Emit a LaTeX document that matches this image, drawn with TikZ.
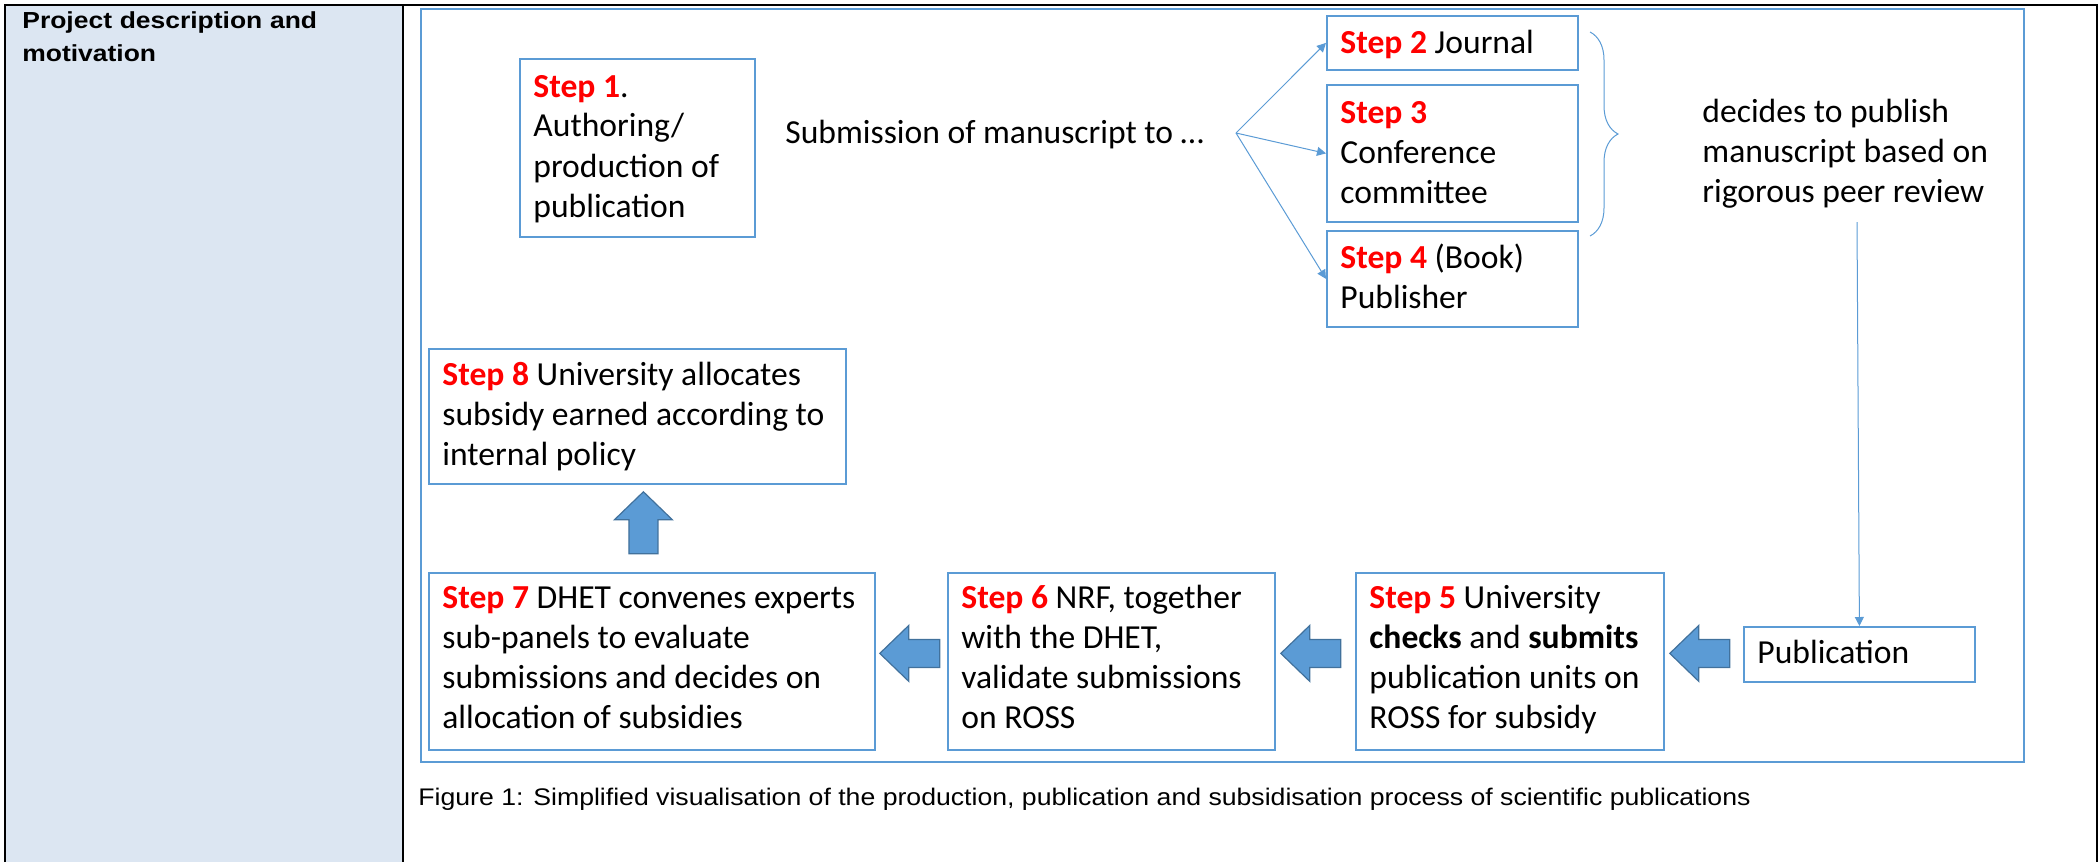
\documentclass[tikz,border=0pt]{standalone}
\usepackage{fontspec}
\setmainfont{Carlito}
\newfontfamily\arialw[FakeStretch=1.14]{Liberation Sans}
\newfontfamily\arialc[FakeStretch=1.11]{Liberation Sans}
\usetikzlibrary{arrows.meta,decorations.pathreplacing}

\definecolor{boxblue}{RGB}{91,155,213}
\definecolor{arrowedge}{RGB}{65,113,156}
\definecolor{cellblue}{RGB}{220,230,242}
\newcommand{\stp}[1]{\textcolor{red}{\bfseries Step #1}}

\tikzset{
  stepbox/.style={draw=boxblue, line width=0.9pt, anchor=north west, inner sep=0pt},
  steptext/.style={anchor=base west, align=flush left, text width=260pt, inner sep=0pt,
    font=\fontsize{16.8pt}{20pt}\selectfont},
  thinarrow/.style={draw=boxblue, line width=0.5pt, -{Triangle[length=4.5pt,width=4.5pt]}},
  blockarrow/.style={fill=boxblue, draw=arrowedge, line width=0.6pt},
  leftarrow/.pic={\draw[blockarrow] (0,0) -- (29,-28) -- (29,-14) -- (60,-14) -- (60,14) -- (29,14) -- (29,28) -- cycle;},
  uparrow/.pic={\draw[blockarrow] (0,0) -- (29,28) -- (14.5,28) -- (14.5,62) -- (-14.5,62) -- (-14.5,28) -- (-29,28) -- cycle;}
}

\begin{document}
\begin{tikzpicture}[x=0.5pt,y=-0.5pt]
\useasboundingbox (0,0) rectangle (2098,862);
% table
\fill[cellblue] (5,5) rectangle (403,862);
\draw[line width=1.2pt] (5,862) -- (5,5) -- (2097,5) -- (2097,862);
\draw[line width=1.2pt] (403,5) -- (403,862);
\node[anchor=base west, align=left, text width=180pt, inner sep=0pt,
  font=\arialw\bfseries\fontsize{11.6pt}{17pt}\selectfont] (head) at (22,28) {Project description and\\motivation};
\draw[boxblue, line width=1pt] (421,9) rectangle (2024,762);

% boxes
\node[stepbox, minimum width=117.5pt, minimum height=89pt] (s1) at (519,58) {};
\node[stepbox, minimum width=125.5pt, minimum height=27pt] (s2) at (1326,15) {};
\node[stepbox, minimum width=125.5pt, minimum height=68.5pt] (s3) at (1326,84) {};
\node[stepbox, minimum width=125.5pt, minimum height=48pt] (s4) at (1326,230) {};
\node[stepbox, minimum width=154pt, minimum height=88.5pt] (s5) at (1355,572) {};
\node[stepbox, minimum width=163.5pt, minimum height=88.5pt] (s6) at (947,572) {};
\node[stepbox, minimum width=223pt, minimum height=88.5pt] (s7) at (428,572) {};
\node[stepbox, minimum width=208.5pt, minimum height=67.5pt] (s8) at (428,348) {};
\node[stepbox, minimum width=115.5pt, minimum height=27.5pt] (pub) at (1743,626) {};

% texts
\node[steptext] (t1) at ([shift={(14,39)}]s1.north west) {\stp{1}.\\Authoring/\\production of\\publication};
\node[steptext] (t2) at ([shift={(14,38)}]s2.north west) {\stp{2} Journal};
\node[steptext] (t3) at ([shift={(14,39)}]s3.north west) {\stp{3}\\Conference\\committee};
\node[steptext] (t4) at ([shift={(14,38)}]s4.north west) {\stp{4} (Book)\\Publisher};
\node[steptext] (t5) at ([shift={(14,36)}]s5.north west) {\stp{5} University\\\textbf{checks} and \textbf{submits}\\publication units on\\ROSS for subsidy};
\node[steptext] (t6) at ([shift={(14,36)}]s6.north west) {\stp{6} NRF, together\\with the DHET,\\validate submissions\\on ROSS};
\node[steptext] (t7) at ([shift={(14,36)}]s7.north west) {\stp{7} DHET convenes experts\\sub-panels to evaluate\\submissions and decides on\\allocation of subsidies};
\node[steptext] (t8) at ([shift={(14,37)}]s8.north west) {\stp{8} University allocates\\subsidy earned according to\\internal policy};
\node[steptext] (tp) at ([shift={(14,37)}]pub.north west) {Publication};
\node[steptext] (submit) at (785,143) {Submission of manuscript to …};
\node[steptext] (decide) at (1702,122) {decides to publish\\manuscript based on\\rigorous peer review};

% connectors
\coordinate (fan) at (1236,133);
\coordinate (review) at (1857,222);
\foreach \s in {s2,s3,s4}
  \draw[thinarrow] (fan) -- (\s.west);
\draw[thinarrow] (review) -- (pub.north);
\draw[boxblue, line width=0.5pt, decorate, decoration={brace, amplitude=14pt}] (1590,32) -- (1590,236);
\pic at ([shift={(5,-8)}]s5.east) {leftarrow};
\pic at ([shift={(5,-8)}]s6.east) {leftarrow};
\pic at ([shift={(4,-8)}]s7.east) {leftarrow};
\pic at ([shift={(6,7)}]s8.south) {uparrow};

\node[anchor=base west, inner sep=0pt, font=\arialc\fontsize{12pt}{14pt}\selectfont] (caption) at (418,805)
  {Figure 1: Simplified visualisation of the production, publication and subsidisation process of scientific publications};
\end{tikzpicture}
\end{document}
